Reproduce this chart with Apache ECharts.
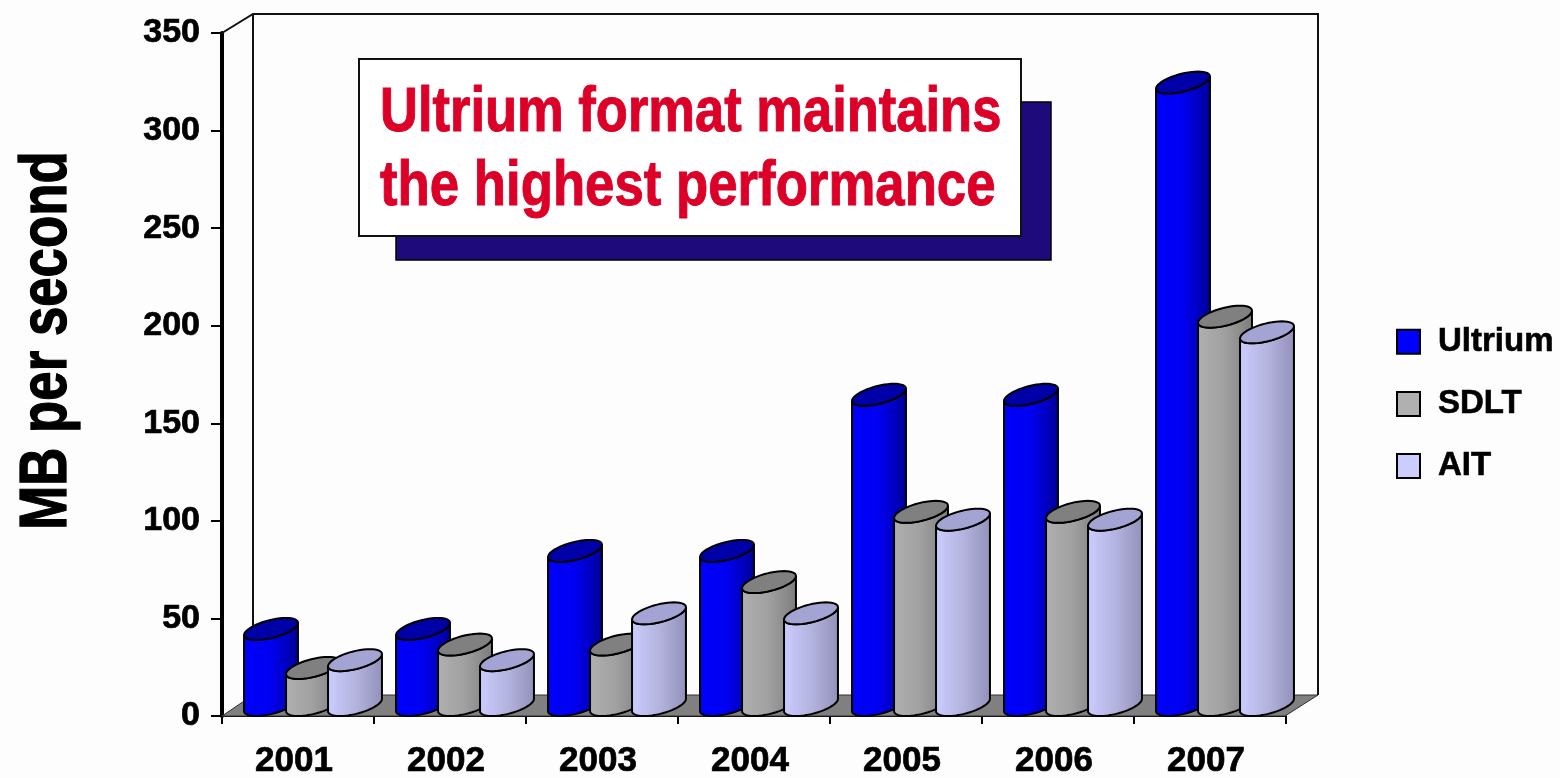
<!DOCTYPE html>
<html><head><meta charset="utf-8">
<style>html,body{margin:0;padding:0;background:#fdfdfd}#c{width:1560px;height:778px;filter:blur(0.7px)}</style>
<script src="https://cdn.jsdelivr.net/npm/echarts@6/dist/echarts.min.js"></script>
</head><body><div id="c"></div>
<script>
const years = ['2001','2002','2003','2004','2005','2006','2007'];
const ultrium = [40,40,80,80,160,160,320];
const sdlt = [20,32,32,64,100,100,200];
const ait = [24,24,48,48,96,96,192];
const seriesNames = ['Ultrium','SDLT','AIT'];
const palette = [
  {l:'#0000ff',m:'#0000f0',r:'#000098',top:'#0000a8',key:'#0000ff'},
  {l:'#b0b0b0',m:'#a0a0a0',r:'#7c7c7c',top:'#808080',key:'#b0b0b0'},
  {l:'#ccccff',m:'#b4b4e0',r:'#9090b8',top:'#a4a4d4',key:'#ccccff'}
];
const chart = echarts.init(document.getElementById('c'));
const A=22.4, BX=15, BY=11, STRIDE=42, SHIFT=15;
const t0=Math.atan2(BX,A);
function pt(cx,cy,t){return [cx+A*Math.cos(t)+BX*Math.sin(t), cy-BY*Math.sin(t)];}
function render(si){return function(params,api){
  const v=api.value(1);
  const base=api.coord([api.value(0),0]);
  const top=api.coord([api.value(0),v]);
  const cx=base[0]+SHIFT+(si-1)*STRIDE;
  const cyB=base[1]-11, cyT=top[1]-9;
  const body=[],ell=[],N=24;
  for(let k=0;k<=N;k++){body.push(pt(cx,cyT,t0-Math.PI*k/N));}
  for(let k=0;k<=N;k++){const p=pt(cx,cyB,t0-Math.PI+Math.PI*k/N);p[1]=Math.min(p[1],base[1]);body.push(p);}
  for(let k=0;k<48;k++){ell.push(pt(cx,cyT,2*Math.PI*k/48));}
  const c=palette[si];
  return {type:'group',children:[
    {type:'polygon',shape:{points:body},style:{stroke:'#000',lineWidth:2,fill:{type:'linear',x:0,y:0,x2:1,y2:0,colorStops:[{offset:0,color:c.l},{offset:.5,color:c.m},{offset:1,color:c.r}]}}},
    {type:'polygon',shape:{points:ell},style:{fill:c.top,stroke:'#000',lineWidth:2}}
  ]};
};}
const rows=[ultrium,sdlt,ait];
chart.setOption({
  animation:false,
  backgroundColor:'#fdfdfd',
  grid:{left:222,top:33,width:1064,height:683,outerBoundsMode:'none'},
  xAxis:{type:'category',data:years,boundaryGap:true,
    axisLine:{lineStyle:{color:'#000',width:2}},
    axisTick:{show:true,length:8,lineStyle:{color:'#000',width:2}},
    axisLabel:{color:'#000',fontFamily:'Liberation Sans',fontWeight:'bold',fontSize:35,margin:28,padding:[0,8,0,0],textBorderColor:'#000',textBorderWidth:0.7}},
  yAxis:{type:'value',min:0,max:350,interval:50,
    axisLine:{show:true,lineStyle:{color:'#000',width:4}},
    axisTick:{show:true,length:11,lineStyle:{color:'#000',width:2}},
    splitLine:{show:false},
    axisLabel:{color:'#000',fontFamily:'Liberation Sans',fontWeight:'bold',fontSize:34,margin:22,textBorderColor:'#000',textBorderWidth:0.7}},
  legend:{orient:'vertical',left:1391,top:320,itemWidth:23,itemHeight:24,itemGap:28.5,icon:'rect',
    data:seriesNames,
    textStyle:{color:'#000',fontFamily:'Liberation Sans',fontWeight:'bold',fontSize:33,padding:[0,0,0,13],textBorderColor:'#000',textBorderWidth:0.6}},
  series:seriesNames.map((n,i)=>({type:'custom',name:n,coordinateSystem:'cartesian2d',z:3+i,
    data:rows[i].map((v,j)=>[j,v]),encode:{x:0,y:1},renderItem:render(i),
    itemStyle:{color:palette[i].key,borderColor:'#000',borderWidth:2}})),
  graphic:[
    {type:'polyline',z:1,shape:{points:[[222,33],[253,14],[1318,14],[1318,695]]},style:{stroke:'#111',lineWidth:2,fill:null}},
    {type:'line',z:1,shape:{x1:253,y1:14,x2:253,y2:695},style:{stroke:'#111',lineWidth:2}},
    {type:'polygon',z:1,shape:{points:[[222,716],[253,695],[1318,695],[1285,716]]},style:{fill:'#808080',stroke:'#303030',lineWidth:1}},
    {type:'rect',z:20,shape:{x:396,y:102,width:655,height:158},style:{fill:'#1f0a7c',stroke:'#000',lineWidth:1.5}},
    {type:'rect',z:21,shape:{x:359,y:59,width:662,height:177},style:{fill:'#fff',stroke:'#111',lineWidth:2}},
    {type:'text',z:22,x:380,y:114,scaleX:1.05,scaleY:1.25,style:{text:'Ultrium format maintains',fill:'#dc0028',stroke:'#dc0028',lineWidth:0.8,font:'bold 50px "Liberation Sans"',textVerticalAlign:'middle'}},
    {type:'text',z:22,x:380,y:188,scaleX:1.055,scaleY:1.25,style:{text:'the highest performance',fill:'#dc0028',stroke:'#dc0028',lineWidth:0.8,font:'bold 50px "Liberation Sans"',textVerticalAlign:'middle'}},
    {type:'text',z:22,x:47.5,y:340.5,rotation:Math.PI/2,scaleX:1.015,scaleY:1.3,style:{text:'MB per second',fill:'#000',stroke:'#000',lineWidth:1,font:'bold 52px "Liberation Sans"',textAlign:'center',textVerticalAlign:'middle'}}
  ]
});
</script></body></html>
